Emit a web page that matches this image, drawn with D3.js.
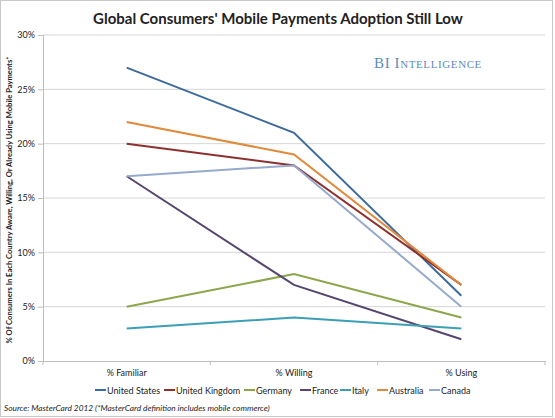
<!DOCTYPE html>
<html>
<head>
<meta charset="utf-8">
<script src="https://d3js.org/d3.v7.min.js"></script>
<style>
  body { margin: 0; background: #fff; }
  svg text { font-family: Lato, "Open Sans", sans-serif; fill: #222; }
  svg text.mark { font-family: "Liberation Serif", "DejaVu Serif", serif; }
</style>
</head>
<body>
<div id="chart"></div>
<script>
// data
var stages = ["% Familiar", "% Willing", "% Using"];
var countries = ["United States", "United Kingdom", "Germany", "France", "Italy", "Australia", "Canada"];
var unitedStates = [27, 21, 6];
var unitedKingdom = [20, 18, 7];
var germany = [5, 8, 4];
var france = [17, 7, 2];
var italy = [3, 4, 3];
var australia = [22, 19, 7];
var canada = [17, 18, 5];
var yTicks = [0, 5, 10, 15, 20, 25, 30];

var colors = ["#3d6b9b", "#8e302e", "#8ca64c", "#56466f", "#3c9fb6", "#e08a3c", "#95aacd"];
var seriesValues = [unitedStates, unitedKingdom, germany, france, italy, australia, canada];

var W = 555, H = 418;
var margin = {top: 35, right: 10, bottom: 57, left: 43};
var width = 545 - margin.left,
    height = 361 - margin.top;

var svg = d3.select("#chart").append("svg")
    .attr("width", W)
    .attr("height", H);

// outer frame
svg.append("rect")
    .attr("x", 0.5).attr("y", 0.5)
    .attr("width", W - 3).attr("height", H - 2)
    .attr("fill", "none")
    .attr("stroke", "#c8c8c8");

svg.append("text")
    .attr("x", 278).attr("y", 24)
    .attr("text-anchor", "middle")
    .attr("font-size", 15)
    .attr("font-weight", "bold")
    .text("Global Consumers' Mobile Payments Adoption Still Low");

var g = svg.append("g")
    .attr("transform", `translate(${margin.left},${margin.top})`);

const x = d3.scaleBand().domain(stages).range([0, width]);
const y = d3.scaleLinear().domain([0, 30]).range([height, 0]);

// gridlines
g.append("g")
    .selectAll("line")
    .data(yTicks.filter(d => d > 0))
    .enter().append("line")
    .attr("x1", 0).attr("x2", width)
    .attr("y1", d => y(d)).attr("y2", d => y(d))
    .attr("stroke", "#d6d6d6");

// y axis
var yAxis = g.append("g")
    .call(d3.axisLeft(y).tickValues(yTicks).tickSize(5).tickPadding(3).tickFormat(d => d + "%"));
yAxis.select(".domain").attr("stroke", "#bdbdbd");
yAxis.selectAll(".tick line").attr("stroke", "#bdbdbd");
yAxis.selectAll("text").attr("font-size", 9).attr("fill", "#333");

// x axis with ticks on category boundaries
var xAxis = g.append("g")
    .attr("transform", `translate(0,${height})`)
    .call(d3.axisBottom(x).tickSize(0).tickPadding(9));
xAxis.select(".domain").attr("stroke", "#bdbdbd");
xAxis.selectAll("text").attr("font-size", 9).attr("fill", "#333");
xAxis.selectAll(".bound")
    .data(d3.range(stages.length + 1))
    .enter().append("line")
    .attr("class", "bound")
    .attr("x1", i => i * x.bandwidth()).attr("x2", i => i * x.bandwidth())
    .attr("y1", 0).attr("y2", 4)
    .attr("stroke", "#bdbdbd");

// watermark
svg.append("text")
    .attr("class", "mark")
    .attr("x", 428).attr("y", 68)
    .attr("text-anchor", "middle")
    .attr("font-size", 15)
    .attr("letter-spacing", 0.6)
    .style("fill", "#5b8cbc")
    .style("font-variant", "small-caps")
    .text("BI Intelligence");

// lines
var line = d3.line()
    .x((d, i) => x(stages[i]) + x.bandwidth() / 2)
    .y(d => y(d));

g.selectAll(".series")
    .data(seriesValues)
    .enter().append("path")
    .attr("class", "series")
    .attr("d", d => line(d))
    .attr("fill", "none")
    .attr("stroke", (d, i) => colors[i])
    .attr("stroke-width", 2);

// y axis title
svg.append("text")
    .attr("transform", "translate(12,200) rotate(-90)")
    .attr("text-anchor", "middle")
    .attr("font-size", 7.6)
    .attr("font-weight", "bold")
    .text("% Of Consumers In Each Country Aware, Willing, Or Already Using Mobile Payments*");

// legend
var legendX = [95, 164, 244, 300, 340, 377, 429];
var legend = svg.append("g").attr("transform", "translate(0,390)");
var items = legend.selectAll(".item")
    .data(countries)
    .enter().append("g")
    .attr("class", "item")
    .attr("transform", (d, i) => `translate(${legendX[i]},0)`);
items.append("line")
    .attr("x1", 0).attr("x2", 11)
    .attr("y1", 0).attr("y2", 0)
    .attr("stroke", (d, i) => colors[i])
    .attr("stroke-width", 2);
items.append("text")
    .attr("x", 12).attr("y", 3.5)
    .attr("font-size", 9)
    .text(d => d);

svg.append("text")
    .attr("x", 4).attr("y", 411)
    .attr("font-size", 8.3)
    .attr("font-style", "italic")
    .text("Source: MasterCard 2012 (*MasterCard definition includes mobile commerce)");
</script>
</body>
</html>
